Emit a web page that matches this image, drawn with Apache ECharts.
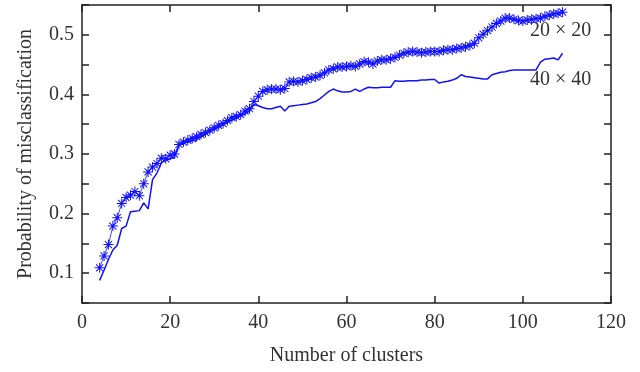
<!DOCTYPE html>
<html>
<head>
<meta charset="utf-8">
<script src="https://cdn.jsdelivr.net/npm/echarts@6/dist/echarts.min.js"></script>
<style>
  html, body { margin: 0; padding: 0; background: #fff; }
  #chart { width: 640px; height: 372px; }
</style>
</head>
<body>
<div id="chart"></div>
<script>
// number of clusters 4..109
const clusters = []
for (let k = 4; k <= 109; k++) clusters.push(k)

// 20 x 20 (stars)
const prob20 = [
  0.109, 0.129, 0.148, 0.179, 0.193, 0.217, 0.227, 0.231, 0.237, 0.230,
  0.250, 0.270, 0.278, 0.284, 0.293, 0.292, 0.298, 0.300, 0.316, 0.320,
  0.323, 0.326, 0.329, 0.333, 0.336, 0.340, 0.344, 0.348, 0.351, 0.356,
  0.361, 0.363, 0.366, 0.372, 0.376, 0.388, 0.397, 0.405, 0.408, 0.409,
  0.409, 0.408, 0.410, 0.421, 0.422, 0.421, 0.423, 0.425, 0.428, 0.429,
  0.432, 0.436, 0.441, 0.443, 0.446, 0.446, 0.447, 0.448, 0.447, 0.451,
  0.455, 0.454, 0.451, 0.456, 0.458, 0.458, 0.460, 0.462, 0.466, 0.469,
  0.471, 0.472, 0.471, 0.470, 0.471, 0.472, 0.472, 0.472, 0.474, 0.475,
  0.475, 0.477, 0.478, 0.480, 0.482, 0.486, 0.495, 0.501, 0.507, 0.513,
  0.519, 0.523, 0.528, 0.528, 0.526, 0.524, 0.523, 0.525, 0.526, 0.527,
  0.528, 0.531, 0.533, 0.535, 0.536, 0.538
]

// 40 x 40 (solid line)
const prob40 = [
  0.088, 0.105, 0.123, 0.139, 0.147, 0.175, 0.179, 0.203, 0.204, 0.205,
  0.218, 0.208, 0.257, 0.268, 0.285, 0.290, 0.292, 0.295, 0.315, 0.318,
  0.320, 0.322, 0.324, 0.329, 0.333, 0.337, 0.341, 0.345, 0.349, 0.353,
  0.357, 0.360, 0.364, 0.368, 0.372, 0.383, 0.381, 0.378, 0.376, 0.376,
  0.378, 0.380, 0.372, 0.380, 0.381, 0.382, 0.383, 0.384, 0.386, 0.388,
  0.393, 0.399, 0.405, 0.409, 0.406, 0.404, 0.404, 0.405, 0.409, 0.405,
  0.409, 0.412, 0.411, 0.411, 0.412, 0.412, 0.412, 0.423, 0.422, 0.422,
  0.423, 0.423, 0.423, 0.424, 0.424, 0.425, 0.425, 0.419, 0.421, 0.422,
  0.424, 0.427, 0.433, 0.430, 0.429, 0.428, 0.427, 0.426, 0.426, 0.433,
  0.435, 0.437, 0.438, 0.440, 0.441, 0.441, 0.441, 0.441, 0.441, 0.441,
  0.454, 0.459, 0.460, 0.461, 0.458, 0.469
]

const xTicks = [0, 20, 40, 60, 80, 100, 120]
const yTicks = [0.1, 0.2, 0.3, 0.4, 0.5]

const FONT = '"Liberation Serif", "DejaVu Serif", serif'
const TEXT = '#333'
const BLUE = '#1010ff'
const STAR = 'path://M4.5,0 h1 v10 h-1 z M0,4.5 h10 v1 h-10 z M1.1,1.8 L1.8,1.1 L8.9,8.2 L8.2,8.9 Z M8.2,1.1 L8.9,1.8 L1.8,8.9 L1.1,8.2 Z'

const chart = echarts.init(document.getElementById('chart'), null, { renderer: 'canvas' })

// fresh objects per axis so every axis keeps its own inside ticks
const axisLine = () => ({ show: true, onZero: false, lineStyle: { color: '#222', width: 1.5 } })
const axisTick = () => ({ show: true, inside: true, length: 7, lineStyle: { color: '#222', width: 1.5 } })

const option = {
  animation: false,
  grid: { left: 82, top: 5, width: 529, height: 298 },
  xAxis: [
    {
      type: 'value',
      position: 'bottom',
      min: 0,
      max: 120,
      interval: 20,
      name: 'Number of clusters',
      nameLocation: 'middle',
      nameGap: 43,
      nameTextStyle: { fontFamily: FONT, fontSize: 20, color: TEXT },
      axisLine: axisLine(),
      axisTick: axisTick(),
      axisLabel: {
        fontFamily: FONT, fontSize: 20, color: TEXT, margin: 10,
        formatter: v => (xTicks.includes(v) ? String(v) : '')
      },
      splitLine: { show: false }
    },
    {
      type: 'value',
      position: 'top',
      min: 0,
      max: 120,
      interval: 20,
      axisLine: axisLine(),
      axisTick: axisTick(),
      axisLabel: { show: false },
      splitLine: { show: false }
    }
  ],
  yAxis: [
    {
      type: 'value',
      position: 'left',
      min: 0.05,
      max: 0.55,
      interval: 0.05,
      name: 'Probability of misclassification',
      nameLocation: 'middle',
      nameGap: 46,
      nameTextStyle: { fontFamily: FONT, fontSize: 20, color: TEXT },
      axisLine: axisLine(),
      axisTick: axisTick(),
      axisLabel: {
        fontFamily: FONT, fontSize: 20, color: TEXT, margin: 8,
        formatter: v => {
          const t = yTicks.find(y => Math.abs(y - v) < 1e-6)
          return t === undefined ? '' : t.toFixed(1)
        }
      },
      splitLine: { show: false }
    },
    {
      type: 'value',
      position: 'right',
      min: 0.05,
      max: 0.55,
      interval: 0.05,
      axisLine: axisLine(),
      axisTick: axisTick(),
      axisLabel: { show: false },
      splitLine: { show: false }
    }
  ],
  series: [
    {
      name: '20 × 20',
      type: 'line',
      data: clusters.map((c, i) => [c, prob20[i]]),
      symbol: STAR,
      symbolSize: 10,
      showAllSymbol: true,
      itemStyle: { color: BLUE },
      lineStyle: { color: BLUE, width: 0.8 },
      z: 3
    },
    {
      name: '40 × 40',
      type: 'line',
      data: clusters.map((c, i) => [c, prob40[i]]),
      symbol: 'none',
      lineStyle: { color: BLUE, width: 1.5 },
      z: 2
    }
  ],
  graphic: [
    {
      type: 'text', left: 530, top: 21,
      style: { text: '20 × 20', font: '20px ' + FONT, fill: TEXT }
    },
    {
      type: 'text', left: 530, top: 70,
      style: { text: '40 × 40', font: '20px ' + FONT, fill: TEXT }
    }
  ]
}

chart.setOption(option)
</script>
</body>
</html>
